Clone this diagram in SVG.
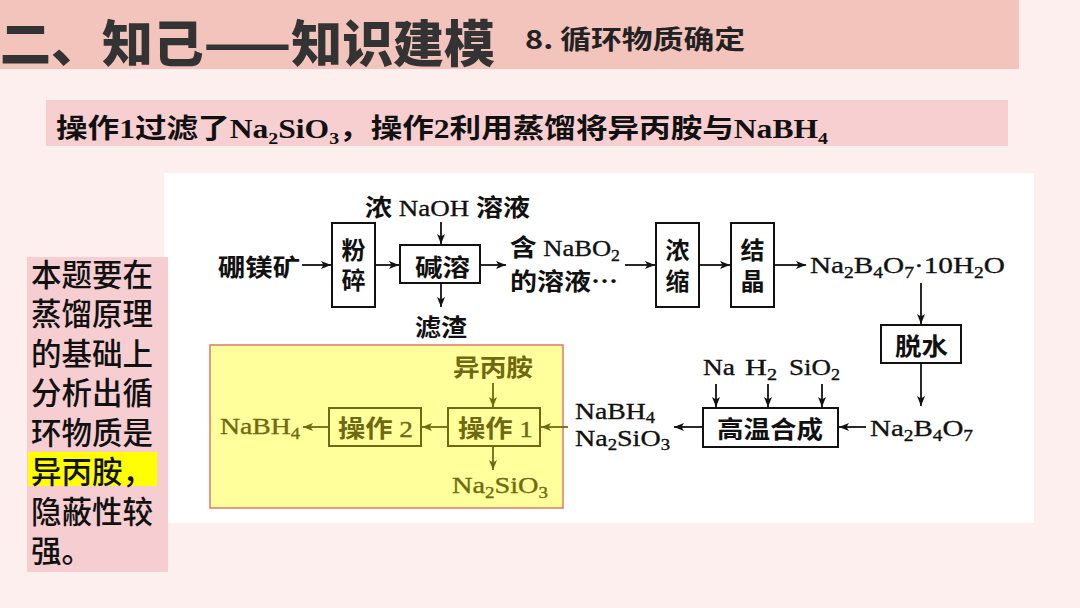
<svg xmlns="http://www.w3.org/2000/svg" width="1080" height="608" viewBox="0 0 1080 608">
<style>
.cn{font-family:"Noto Sans CJK SC","Noto Sans",sans-serif;}
.d{font-family:"Liberation Serif","Noto Sans CJK SC",serif;font-size:24px;fill:#111;stroke:#111;stroke-width:0.35;}
.dc{font-family:"Noto Sans CJK SC",sans-serif;font-weight:700;stroke-width:0;}
.y{fill:#6f6a12;stroke:#6f6a12;}
.box{fill:none;stroke:#111;stroke-width:2;}
.ybox{fill:none;stroke:#6f6a12;stroke-width:2;}
.ln{stroke:#111;stroke-width:1.8;fill:none;marker-end:url(#ah);}
.yln{stroke:#6f6a12;stroke-width:1.8;fill:none;marker-end:url(#ahy);}
.sub{font-size:16px;}
</style>
<defs>
<marker id="ah" viewBox="0 0 10 8" refX="10" refY="4" markerWidth="11" markerHeight="8" orient="auto" markerUnits="userSpaceOnUse"><path d="M0,0 L10,4 L0,8 L2.5,4 z" fill="#111"/></marker>
<marker id="ahy" viewBox="0 0 10 8" refX="10" refY="4" markerWidth="11" markerHeight="8" orient="auto" markerUnits="userSpaceOnUse"><path d="M0,0 L10,4 L0,8 L2.5,4 z" fill="#6f6a12"/></marker>
</defs>
<rect x="0" y="0" width="1080" height="608" fill="#fcefee"/>
<g id="header">
<rect x="0" y="0" width="1019" height="69" fill="#f2c4bc"/>
<text class="cn" x="0" y="62" font-size="50" font-weight="900" fill="#333" textLength="495" lengthAdjust="spacingAndGlyphs">二、知己——知识建模</text>
<text class="cn" x="525" y="49" font-size="26" font-weight="700" fill="#222" textLength="220" lengthAdjust="spacingAndGlyphs">8. 循环物质确定</text>
</g>
<g id="subtitle">
<rect x="46" y="100" width="962" height="46" fill="#f7cfd1"/>
<text x="56" y="138" font-size="27" font-weight="700" fill="#111" font-family="Liberation Serif,Noto Sans CJK SC,serif" textLength="772" lengthAdjust="spacingAndGlyphs"><tspan class="dc">操作</tspan>1<tspan class="dc">过滤了</tspan>Na<tspan font-size="17" dy="6">2</tspan><tspan dy="-6">SiO</tspan><tspan font-size="17" dy="6">3</tspan><tspan class="dc" dy="-6">，操作</tspan>2<tspan class="dc">利用蒸馏将异丙胺与</tspan>NaBH<tspan font-size="17" dy="6">4</tspan></text>
</g>
<rect x="164" y="173" width="870" height="350" fill="#ffffff"/>
<g id="note">
<rect x="27" y="257" width="141" height="315" fill="#f6ced1"/>
<rect x="28" y="452" width="129" height="34" fill="#ffff00"/>
<text class="cn" font-size="30.5" font-weight="500" fill="#111"><tspan x="31" y="285.5">本题要在</tspan><tspan x="31" y="325">蒸馏原理</tspan><tspan x="31" y="364.5">的基础上</tspan><tspan x="31" y="404">分析出循</tspan><tspan x="31" y="443.5">环物质是</tspan><tspan x="31" y="483">异丙胺，</tspan><tspan x="31" y="522.5">隐蔽性较</tspan><tspan x="31" y="562">强。</tspan></text>
</g>
<g id="n-ore"><text class="d dc" x="218" y="276" textLength="82" lengthAdjust="spacingAndGlyphs">硼镁矿</text></g>
<g id="n-crush"><rect class="box" x="332" y="223" width="43" height="84"/><text class="d dc" text-anchor="middle"><tspan x="353.5" y="259">粉</tspan><tspan x="353.5" y="289">碎</tspan></text></g>
<g id="n-naoh"><text class="d" x="365" y="216" textLength="165" lengthAdjust="spacingAndGlyphs"><tspan class="dc">浓</tspan> NaOH <tspan class="dc">溶液</tspan></text></g>
<g id="n-alk"><rect class="box" x="400" y="245" width="80" height="38"/><text class="d dc" x="415" y="276" textLength="55" lengthAdjust="spacingAndGlyphs">碱溶</text></g>
<g id="n-res"><text class="d dc" x="415" y="336" textLength="52" lengthAdjust="spacingAndGlyphs">滤渣</text></g>
<g id="n-sol"><text class="d" x="510" y="256" textLength="110" lengthAdjust="spacingAndGlyphs"><tspan class="dc">含</tspan> NaBO<tspan class="sub" dy="5">2</tspan></text><text class="d dc" x="510" y="290" textLength="108" lengthAdjust="spacingAndGlyphs">的溶液…</text></g>
<g id="n-conc"><rect class="box" x="656" y="223" width="43" height="84"/><text class="d dc" text-anchor="middle"><tspan x="677.5" y="259">浓</tspan><tspan x="677.5" y="290">缩</tspan></text></g>
<g id="n-cry"><rect class="box" x="731" y="223" width="43" height="84"/><text class="d dc" text-anchor="middle"><tspan x="752.5" y="259">结</tspan><tspan x="752.5" y="290">晶</tspan></text></g>
<g id="n-borax"><text class="d" x="810" y="273" textLength="195" lengthAdjust="spacingAndGlyphs">Na<tspan class="sub" dy="5">2</tspan><tspan dy="-5">B</tspan><tspan class="sub" dy="5">4</tspan><tspan dy="-5">O</tspan><tspan class="sub" dy="5">7</tspan><tspan dy="-5">·10H</tspan><tspan class="sub" dy="5">2</tspan><tspan dy="-5">O</tspan></text></g>
<g id="n-dehy"><rect class="box" x="881" y="325" width="80" height="38"/><text class="d dc" x="895" y="355" textLength="53" lengthAdjust="spacingAndGlyphs">脱水</text></g>
<g id="n-b4o7"><text class="d" x="870" y="436" textLength="103" lengthAdjust="spacingAndGlyphs">Na<tspan class="sub" dy="5">2</tspan><tspan dy="-5">B</tspan><tspan class="sub" dy="5">4</tspan><tspan dy="-5">O</tspan><tspan class="sub" dy="5">7</tspan></text></g>
<g id="n-hts"><rect class="box" x="703" y="408" width="135" height="39"/><text class="d dc" x="717" y="438" textLength="106" lengthAdjust="spacingAndGlyphs">高温合成</text></g>
<g id="n-na"><text class="d" x="703" y="375" textLength="32" lengthAdjust="spacingAndGlyphs">Na</text></g>
<g id="n-h2"><text class="d" x="745" y="375" textLength="32" lengthAdjust="spacingAndGlyphs">H<tspan class="sub" dy="5">2</tspan></text></g>
<g id="n-sio2"><text class="d" x="789" y="375" textLength="51" lengthAdjust="spacingAndGlyphs">SiO<tspan class="sub" dy="5">2</tspan></text></g>
<g id="n-prod"><text class="d" x="575" y="419" font-size="23" textLength="80" lengthAdjust="spacingAndGlyphs">NaBH<tspan class="sub" dy="4">4</tspan></text><text class="d" x="575" y="446" font-size="23" textLength="95" lengthAdjust="spacingAndGlyphs">Na<tspan class="sub" dy="4">2</tspan><tspan dy="-4">SiO</tspan><tspan class="sub" dy="4">3</tspan></text></g>
<g id="n-loop"><rect x="210" y="345" width="353" height="163" fill="#ffff9c" stroke="#e07a66" stroke-width="1.5"/></g>
<g id="n-ipa"><text class="d dc y" x="453" y="376" textLength="80" lengthAdjust="spacingAndGlyphs">异丙胺</text></g>
<g id="n-op1"><rect class="ybox" x="448" y="408" width="92" height="38"/><text class="d y" x="458" y="437" textLength="75" lengthAdjust="spacingAndGlyphs"><tspan class="dc">操作</tspan> 1</text></g>
<g id="n-op2"><rect class="ybox" x="329" y="408" width="92" height="38"/><text class="d y" x="338" y="437" textLength="75" lengthAdjust="spacingAndGlyphs"><tspan class="dc">操作</tspan> 2</text></g>
<g id="n-nabh4"><text class="d y" x="220" y="434" textLength="80" lengthAdjust="spacingAndGlyphs">NaBH<tspan class="sub" dy="5">4</tspan></text></g>
<g id="n-na2sio3"><text class="d y" x="452" y="493" textLength="96" lengthAdjust="spacingAndGlyphs">Na<tspan class="sub" dy="5">2</tspan><tspan dy="-5">SiO</tspan><tspan class="sub" dy="5">3</tspan></text></g>
<g id="connectors">
<line class="ln" x1="302" y1="265" x2="331" y2="265"/>
<line class="ln" x1="375" y1="265" x2="399" y2="265"/>
<line class="ln" x1="441" y1="222" x2="441" y2="244"/>
<line class="ln" x1="441" y1="283" x2="441" y2="307"/>
<line class="ln" x1="481" y1="265" x2="506" y2="265"/>
<line class="ln" x1="625" y1="265" x2="655" y2="265"/>
<line class="ln" x1="699" y1="265" x2="730" y2="265"/>
<line class="ln" x1="774" y1="265" x2="806" y2="265"/>
<line class="ln" x1="921" y1="283" x2="921" y2="324"/>
<line class="ln" x1="921" y1="363" x2="921" y2="406"/>
<line class="ln" x1="866" y1="427" x2="839" y2="427"/>
<line class="ln" x1="716" y1="384" x2="716" y2="407"/>
<line class="ln" x1="768" y1="384" x2="768" y2="407"/>
<line class="ln" x1="822" y1="384" x2="822" y2="407"/>
<line class="ln" x1="703" y1="427" x2="674" y2="427"/>
<line class="yln" x1="568" y1="427" x2="541" y2="427"/>
<line class="yln" x1="493" y1="383" x2="493" y2="407"/>
<line class="yln" x1="448" y1="427" x2="422" y2="427"/>
<line class="yln" x1="329" y1="427" x2="303" y2="427"/>
<line class="yln" x1="493" y1="446" x2="493" y2="470"/>
</g>
</svg>
